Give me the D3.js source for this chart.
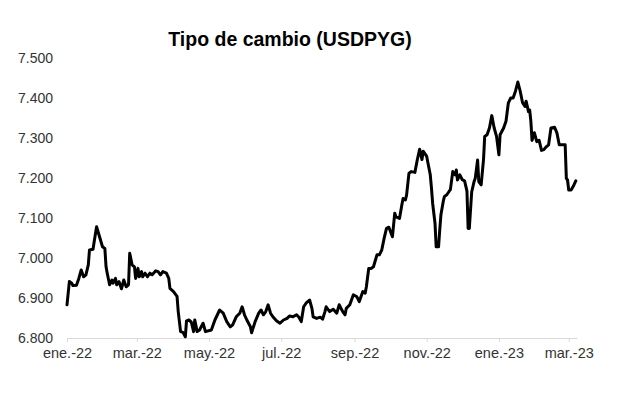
<!DOCTYPE html>
<html>
<head>
<meta charset="utf-8">
<script src="https://cdn.jsdelivr.net/npm/d3@7"></script>
<style>
  html, body { margin: 0; padding: 0; background: #fff; }
  svg { display: block; }
</style>
</head>
<body>
<div id="chart"></div>
<script>
const title = "Tipo de cambio (USDPYG)";

const dates = [
  "2022-01-01","2022-01-03","2022-01-05","2022-01-06","2022-01-09","2022-01-11","2022-01-13","2022-01-15","2022-01-17","2022-01-19",
  "2022-01-20","2022-01-23","2022-01-24","2022-01-26","2022-01-28","2022-01-31","2022-02-02","2022-02-03","2022-02-04","2022-02-06",
  "2022-02-08","2022-02-09","2022-02-11","2022-02-12","2022-02-14","2022-02-16","2022-02-18","2022-02-20","2022-02-22","2022-02-23",
  "2022-02-25","2022-02-27","2022-02-28","2022-03-02","2022-03-03","2022-03-05","2022-03-06","2022-03-08","2022-03-10","2022-03-12",
  "2022-03-14","2022-03-17","2022-03-19","2022-03-21","2022-03-23","2022-03-26","2022-03-28","2022-03-29","2022-04-01","2022-04-04",
  "2022-04-05","2022-04-07","2022-04-09","2022-04-11","2022-04-12","2022-04-14","2022-04-16","2022-04-18","2022-04-19","2022-04-21",
  "2022-04-23","2022-04-26","2022-04-28","2022-05-03","2022-05-06","2022-05-10","2022-05-13","2022-05-16","2022-05-19","2022-05-21",
  "2022-05-24","2022-05-27","2022-05-29","2022-05-31","2022-06-02","2022-06-05","2022-06-06","2022-06-09","2022-06-12","2022-06-14",
  "2022-06-16","2022-06-18","2022-06-20","2022-06-22","2022-06-24","2022-06-27","2022-06-30","2022-07-03","2022-07-06","2022-07-08",
  "2022-07-11","2022-07-14","2022-07-16","2022-07-18","2022-07-20","2022-07-22","2022-07-25","2022-07-27","2022-07-28","2022-07-31",
  "2022-08-03","2022-08-05","2022-08-07","2022-08-08","2022-08-11","2022-08-14","2022-08-17","2022-08-19","2022-08-22","2022-08-24",
  "2022-08-25","2022-08-28","2022-08-31","2022-09-03","2022-09-05","2022-09-08","2022-09-10","2022-09-11","2022-09-13","2022-09-15",
  "2022-09-17","2022-09-20","2022-09-22","2022-09-24","2022-09-26","2022-09-28","2022-09-30","2022-10-03","2022-10-05","2022-10-06",
  "2022-10-09","2022-10-11","2022-10-12","2022-10-14","2022-10-15","2022-10-17","2022-10-19","2022-10-22","2022-10-24","2022-10-26",
  "2022-10-28","2022-10-29","2022-11-01","2022-11-02","2022-11-04","2022-11-05","2022-11-06","2022-11-08","2022-11-09","2022-11-11",
  "2022-11-12","2022-11-13","2022-11-15","2022-11-16","2022-11-18","2022-11-20","2022-11-21","2022-11-23","2022-11-25","2022-11-26",
  "2022-11-27","2022-11-29","2022-12-01","2022-12-03","2022-12-05","2022-12-06","2022-12-07","2022-12-09","2022-12-11","2022-12-12",
  "2022-12-14","2022-12-15","2022-12-17","2022-12-19","2022-12-20","2022-12-22","2022-12-24","2022-12-26","2022-12-28","2022-12-30",
  "2023-01-01","2023-01-02","2023-01-05","2023-01-07","2023-01-09","2023-01-11","2023-01-13","2023-01-15","2023-01-17","2023-01-19",
  "2023-01-21","2023-01-23","2023-01-24","2023-01-26","2023-01-27","2023-01-28","2023-01-29","2023-01-31","2023-02-02","2023-02-04",
  "2023-02-06","2023-02-08","2023-02-10","2023-02-12","2023-02-14","2023-02-17","2023-02-19","2023-02-21","2023-02-24","2023-02-26",
  "2023-02-27","2023-02-28","2023-03-01","2023-03-03","2023-03-05","2023-03-07"
];

const values = [
  6.883,6.941,6.937,6.931,6.932,6.949,6.970,6.953,6.958,6.983,
  7.020,7.022,7.041,7.078,7.058,7.028,7.024,6.978,6.962,6.933,
  6.945,6.937,6.949,6.933,6.941,6.923,6.945,6.928,6.933,7.012,
  6.983,6.978,6.949,6.974,6.953,6.966,6.953,6.962,6.953,6.962,
  6.958,6.968,6.966,6.958,6.966,6.962,6.949,6.924,6.916,6.904,
  6.866,6.816,6.814,6.803,6.843,6.845,6.840,6.816,6.845,6.816,
  6.820,6.837,6.816,6.820,6.845,6.870,6.862,6.841,6.828,6.833,
  6.853,6.862,6.878,6.858,6.845,6.828,6.813,6.841,6.862,6.870,
  6.858,6.866,6.883,6.862,6.853,6.843,6.837,6.845,6.849,6.855,
  6.853,6.858,6.852,6.841,6.878,6.887,6.895,6.874,6.853,6.849,
  6.852,6.847,6.866,6.878,6.866,6.872,6.862,6.883,6.866,6.858,
  6.874,6.883,6.908,6.903,6.891,6.916,6.912,6.928,6.974,6.974,
  6.978,7.008,7.008,7.020,7.049,7.074,7.077,7.053,7.112,7.103,
  7.099,7.133,7.149,7.145,7.158,7.212,7.216,7.214,7.245,7.272,
  7.246,7.267,7.254,7.238,7.208,7.175,7.137,7.087,7.028,7.028,
  7.070,7.108,7.142,7.154,7.158,7.167,7.171,7.216,7.208,7.220,
  7.195,7.208,7.196,7.193,7.167,7.074,7.074,7.165,7.191,7.199,
  7.245,7.191,7.183,7.246,7.304,7.308,7.325,7.356,7.325,7.304,
  7.258,7.308,7.325,7.342,7.388,7.400,7.400,7.417,7.440,7.417,
  7.388,7.379,7.392,7.366,7.370,7.342,7.294,7.313,7.291,7.294,
  7.269,7.271,7.278,7.283,7.325,7.327,7.313,7.283,7.283,7.283,
  7.199,7.195,7.170,7.170,7.180,7.193
];

const yTicks = [6.8, 6.9, 7.0, 7.1, 7.2, 7.3, 7.4, 7.5];
const xTickDates = ["2022-01-01","2022-03-01","2022-05-01","2022-07-01","2022-09-01","2022-11-01","2023-01-01","2023-03-01"];
const xTickLabels = ["ene.-22","mar.-22","may.-22","jul.-22","sep.-22","nov.-22","ene.-23","mar.-23"];
const domainDates = ["2022-01-01","2023-03-08"];

const W = 617, H = 394;
const parse = d3.utcParse("%Y-%m-%d");
const data = dates.map((d, i) => ({ date: parse(d), value: values[i] }));

const svg = d3.select("#chart").append("svg")
  .attr("width", W).attr("height", H)
  .style("font-family", "'Liberation Sans', Arial, sans-serif");

const x = d3.scaleUtc().domain(domainDates.map(parse)).range([67, 577]);
const y = d3.scaleLinear().domain([6.8, 7.5]).range([338, 58]);

const fmt = v => d3.format(".3f")(v).replace(".", ".");

// title
svg.append("text")
  .attr("x", 290).attr("y", 46)
  .attr("text-anchor", "middle")
  .style("font-size", "19.5px").style("font-weight", "bold").attr("fill", "#000")
  .text(title);

// y axis (labels only)
const yAxis = d3.axisLeft(y).tickValues(yTicks).tickSize(0).tickPadding(0)
  .tickFormat(v => d3.format(".3f")(v));
const gy = svg.append("g").attr("transform", "translate(53,0)").call(yAxis);
gy.select(".domain").remove();
gy.selectAll("text").style("font-size", "14px").attr("fill", "#333")
  .attr("font-family", "'Liberation Sans', Arial, sans-serif");

// x axis
const xAxis = d3.axisBottom(x).tickValues(xTickDates.map(parse))
  .tickSizeInner(4).tickSizeOuter(0).tickPadding(6)
  .tickFormat((d, i) => xTickLabels[i]);
const gx = svg.append("g").attr("transform", "translate(0,338)").call(xAxis);
gx.select(".domain").attr("stroke", "#d9d9d9").attr("stroke-width", 1);
gx.selectAll(".tick line").attr("stroke", "#d9d9d9");
gx.selectAll("text").style("font-size", "14.5px").attr("fill", "#333")
  .attr("font-family", "'Liberation Sans', Arial, sans-serif");

// line
const line = d3.line().x(d => x(d.date)).y(d => y(d.value));
svg.append("path").datum(data)
  .attr("d", line)
  .attr("fill", "none")
  .attr("stroke", "#000")
  .attr("stroke-width", 3)
  .attr("stroke-linejoin", "round")
  .attr("stroke-linecap", "round");
</script>
</body>
</html>
